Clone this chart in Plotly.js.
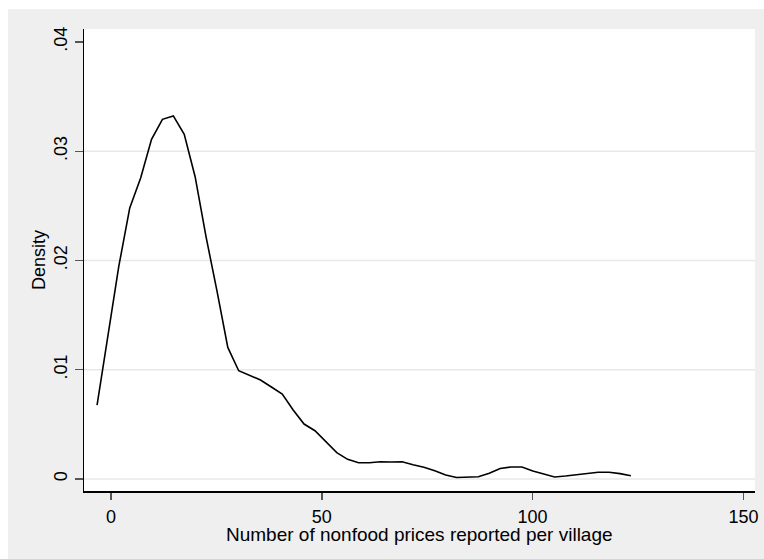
<!DOCTYPE html>
<html>
<head>
<meta charset="utf-8">
<script src="https://cdn.plot.ly/plotly-3.0.1.min.js"></script>
<style>
html,body{margin:0;padding:0;background:#ffffff;}
#chart{position:absolute;left:8px;top:9px;width:756px;height:550px;}
</style>
</head>
<body>
<div id="chart"></div>
<script>
// Kernel density evaluation grid (50 points) and density values
const xStart = -3.3;
const xStep = 2.584;
const densityValues = [
  0.00677, 0.01309, 0.01950, 0.02481, 0.02755, 0.03109, 0.03292, 0.03323, 0.03155, 0.02767,
  0.02218, 0.01724, 0.01204, 0.00991, 0.00952, 0.00906, 0.00842, 0.00778, 0.00632, 0.00503,
  0.00442, 0.00339, 0.00241, 0.00180, 0.00149, 0.00149, 0.00158, 0.00156, 0.00158, 0.00131,
  0.00107, 0.00076, 0.00037, 0.00014, 0.00018, 0.00021, 0.00052, 0.00096, 0.00110, 0.00110,
  0.00073, 0.00043, 0.00018, 0.00027, 0.00041, 0.00050, 0.00061, 0.00061, 0.00049, 0.00030
];
const xPoints = densityValues.map((_, i) => xStart + i * xStep);

const xTickVals = [0, 50, 100, 150];
const xTickText = ["0", "50", "100", "150"];
const yTickVals = [0, 0.01, 0.02, 0.03, 0.04];
const yTickText = ["0", ".01", ".02", ".03", ".04"];
const yGridVals = [0, 0.01, 0.02, 0.03];

const xTitle = "Number of nonfood prices reported per village";
const yTitle = "Density";

const font = {family: "Liberation Sans, Arial, sans-serif", size: 18, color: "#000000"};
const xTitleFont = {family: "Liberation Sans, Arial, sans-serif", size: 19, color: "#000000"};

const trace = {
  x: xPoints,
  y: densityValues,
  type: "scatter",
  mode: "lines",
  line: {color: "#000000", width: 1.6},
  hoverinfo: "skip"
};

const gridShapes = yGridVals.map(v => ({
  type: "line", xref: "paper", x0: 0, x1: 1, yref: "y", y0: v, y1: v,
  line: {color: "#e8e8e8", width: 1.5}, layer: "below"
}));

const layout = {
  width: 756,
  height: 550,
  margin: {l: 76, r: 9, t: 20, b: 68},
  paper_bgcolor: "#efefef",
  plot_bgcolor: "#ffffff",
  showlegend: false,
  font: font,
  xaxis: {
    range: [-6.4, 152.75],
    tickvals: xTickVals,
    ticktext: xTickText,
    ticks: "outside",
    ticklen: 7,
    tickwidth: 1.5,
    tickcolor: "#555555",
    showline: true,
    linecolor: "#000000",
    linewidth: 1.5,
    showgrid: false,
    zeroline: false,
    tickfont: font,
    ticklabelstandoff: 2
  },
  yaxis: {
    range: [-0.0011, 0.04119],
    tickvals: yTickVals,
    ticktext: yTickText,
    tickangle: -90,
    ticks: "outside",
    ticklen: 8,
    tickwidth: 1.5,
    tickcolor: "#555555",
    showline: true,
    linecolor: "#000000",
    linewidth: 1.5,
    showgrid: false,
    zeroline: false,
    tickfont: font
  },
  shapes: gridShapes,
  annotations: [
    {text: xTitle, xref: "paper", yref: "paper", x: 0.5, y: -0.0935,
     xanchor: "center", yanchor: "middle", showarrow: false, font: xTitleFont},
    {text: yTitle, xref: "paper", yref: "paper", x: -0.067, y: 0.5,
     xanchor: "center", yanchor: "middle", textangle: -90, showarrow: false, font: font}
  ]
};

Plotly.newPlot("chart", [trace], layout, {displayModeBar: false, staticPlot: true});
</script>
</body>
</html>
